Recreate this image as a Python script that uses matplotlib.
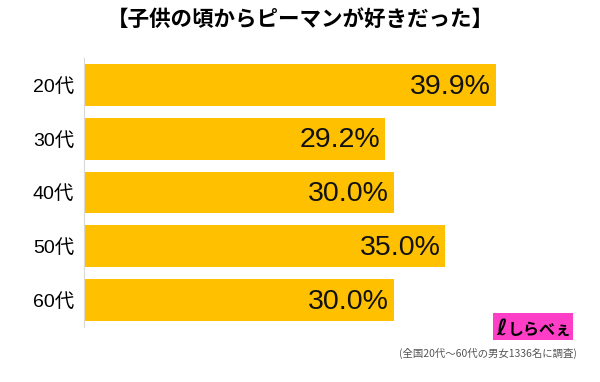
import matplotlib
matplotlib.use("Agg")
import matplotlib.pyplot as plt
from matplotlib.patches import Rectangle

# data
categories = ['20代', '30代', '40代', '50代', '60代']
values = [39.9, 29.2, 30.0, 35.0, 30.0]
title = '【子供の頃からピーマンが好きだった】'
note = '(全国20代～60代の男女1336名に調査)'

fam = ['Liberation Sans', 'Noto Sans CJK JP', 'DejaVu Sans']
plt.rcParams['font.family'] = fam
cjk = ['Noto Sans CJK JP', 'DejaVu Sans']

fig = plt.figure(figsize=(6.0, 3.82), dpi=100)
axes = fig.add_axes([0.14, 0.144, 0.86, 0.704])

ypos = list(range(len(categories)))
axes.barh(ypos, values, height=0.775, color='#FFC000', zorder=2)
for y, v in zip(ypos, values):
    axes.text(v - 0.45, y + 0.03, '%.1f%%' % v, ha='right', va='center',
              fontsize=20.5, color='#111111', zorder=3)

axes.set_xlim(0, 50)
axes.set_ylim(4.5, -0.5)
axes.set_yticks(ypos)
axes.set_yticklabels(categories, fontsize=14)
axes.tick_params(axis='y', length=0, pad=7)
axes.set_xticks([])
for side in ['top', 'right', 'bottom']:
    axes.spines[side].set_visible(False)
axes.spines['left'].set_color('#D9D9D9')
axes.spines['left'].set_linewidth(0.8)

fig.text(0.5, 1 - 19 / 382, title, ha='center', va='center', fontsize=15.5,
         fontweight='bold', family=cjk)

# logo box
fig.patches.append(Rectangle((493 / 600, 1 - 340 / 382), 80 / 600, 27 / 382,
                             transform=fig.transFigure, facecolor='#FF3EC8',
                             edgecolor='none'))
fig.text(502 / 600, 1 - 329 / 382, 'ℓ', ha='center', va='center',
         fontsize=16, fontweight='bold', color='black', family=['DejaVu Sans'])
fig.text(540 / 600, 1 - 330 / 382, 'しらべぇ', ha='center', va='center',
         fontsize=11.5, fontweight='bold', color='black', family=cjk)

fig.text(577 / 600, 1 - 353 / 382, note, ha='right', va='center', fontsize=7.5,
         color='#555555', family=cjk)

plt.savefig('out.png', dpi=100)
